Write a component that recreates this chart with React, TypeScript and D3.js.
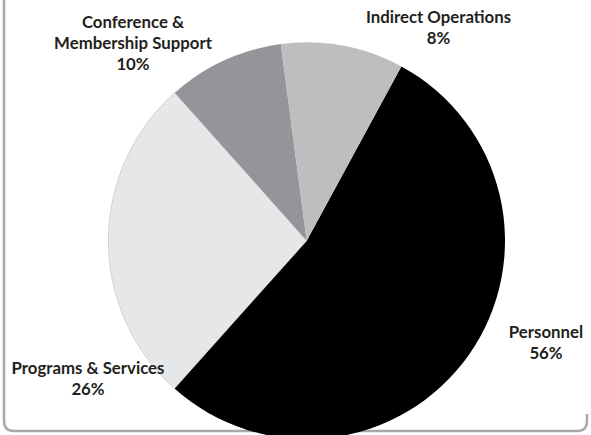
import React from "react";
import * as d3 from "d3";

// Data (slice shares as drawn, printed percentage labels)
const categories = ["Personnel", "Programs & Services", "Conference & Membership Support", "Indirect Operations"];
const values = [53.7, 26.8, 9.5, 10.0];
const percentLabels = ["56%", "26%", "10%", "8%"];
const nameLines = [["Personnel"], ["Programs & Services"], ["Conference &", "Membership Support"], ["Indirect Operations"]];

// Layout / style
const W = 591;
const H = 435;
const CX = 306.7;
const CY = 240.7;
const R = 198.3;
const START_DEG = 28.5;
const colors = ["#000000", "#e6e7e8", "#939598", "#bcbec0"];
// label anchor (center x, first baseline y)
const labelAnchors: [number, number][] = [
  [546, 338],
  [88, 373.5],
  [133, 28],
  [438.5, 23],
];
const LINE = 21;

export default function App() {
  const pie = d3
    .pie<number>()
    .sort(null)
    .value((d) => d)
    .startAngle((START_DEG * Math.PI) / 180)
    .endAngle((START_DEG * Math.PI) / 180 + 2 * Math.PI);
  const arcs = pie(values);
  const arcGen = d3.arc<d3.PieArcDatum<number>>().innerRadius(0).outerRadius(R);

  return (
    <svg
      width={W}
      height={H}
      style={{ position: "absolute", left: 0, top: 0, display: "block" }}
    >
      <rect x={0} y={0} width={W} height={H} fill="#ffffff" />
      <path
        d={`M4,-5 L4,421 Q4,431 14,431 L577,431 Q587,431 587,421 L587,414`}
        fill="none"
        stroke="#a7a9ac"
        strokeWidth={2.5}
      />
      <g transform={`translate(${CX},${CY})`}>
        {arcs.map((a, i) => (
          <path
            key={categories[i]}
            d={arcGen(a) || ""}
            fill={colors[i]}
            stroke={i === 1 ? "#b0b2b4" : "none"}
            strokeWidth={0.5}
          />
        ))}
      </g>
      {categories.map((c, i) => {
        const [x, y] = labelAnchors[i];
        const lines = [...nameLines[i], percentLabels[i]];
        return (
          <text
            key={c}
            x={x}
            y={y}
            textAnchor="middle"
            fontFamily="Lato, 'Open Sans', sans-serif"
            fontWeight="bold"
            fontSize={16.8}
            fill="#231f20"
          >
            {lines.map((l, j) => (
              <tspan key={j} x={x} dy={j === 0 ? 0 : LINE}>
                {l}
              </tspan>
            ))}
          </text>
        );
      })}
    </svg>
  );
}
